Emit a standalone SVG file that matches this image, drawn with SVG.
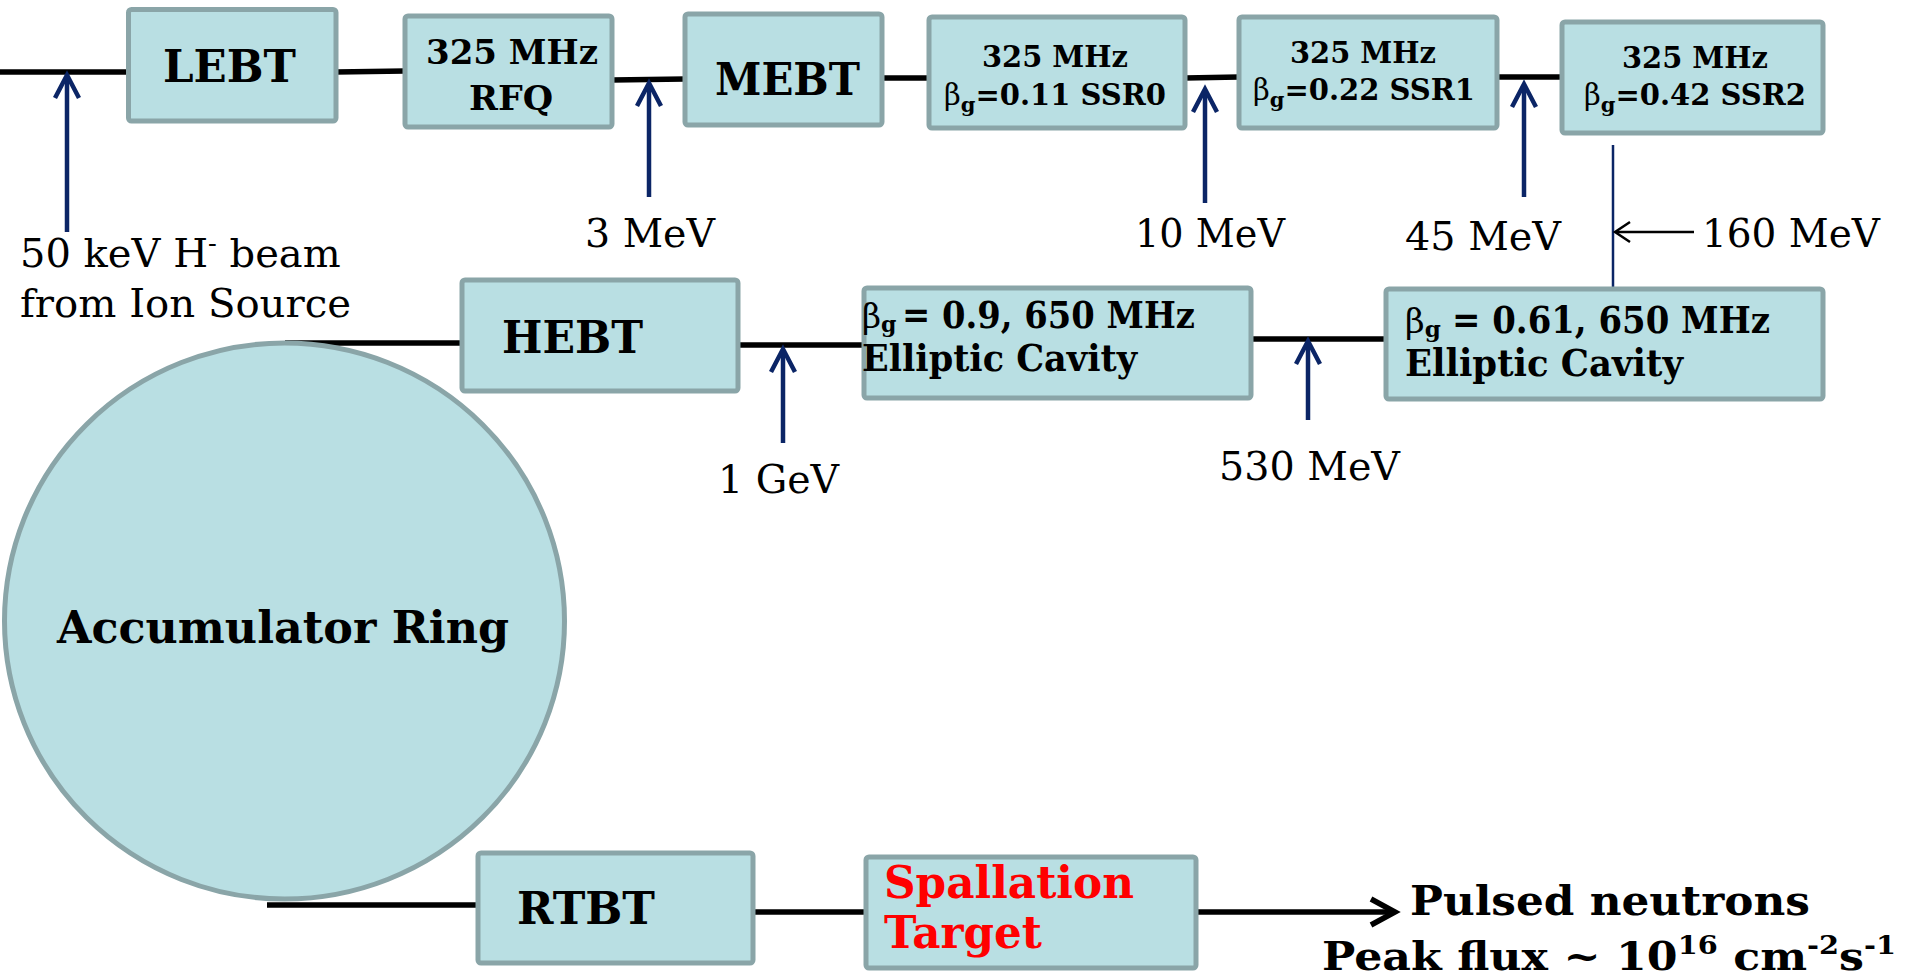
<svg xmlns="http://www.w3.org/2000/svg" width="1905" height="980" viewBox="0 0 1905 980">
<style>
.box{fill:#B9DFE3;stroke:#8AA5A8;stroke-width:5}
.ln{stroke:#000;stroke-width:5.5;fill:none}
.nv{stroke:#0B2566;stroke-width:4.5;fill:none;stroke-linejoin:miter}
.thin{stroke:#0B2566;stroke-width:2.5;fill:none}
.b{font-family:"DejaVu Serif","Liberation Serif",serif;font-weight:bold;fill:#000}
.r{font-family:"DejaVu Serif","Liberation Serif",serif;font-weight:normal;fill:#000}
.beta{font-weight:normal}
.red{fill:#FF0000}
</style>
<rect width="1905" height="980" fill="#fff"/>

<g id="connectors">
<line class="ln" x1="0" y1="72" x2="128" y2="72"/>
<line class="ln" x1="336" y1="72" x2="405" y2="71"/>
<line class="ln" x1="612" y1="80" x2="685" y2="79"/>
<line class="ln" x1="882" y1="78" x2="929" y2="78"/>
<line class="ln" x1="1185" y1="78" x2="1239" y2="77"/>
<line class="ln" x1="1497" y1="77" x2="1562" y2="77"/>
<line class="thin" x1="1613" y1="145" x2="1613" y2="289"/>
<line class="ln" x1="1251" y1="339" x2="1386" y2="339"/>
<line class="ln" x1="738" y1="345" x2="864" y2="345"/>
<line class="ln" x1="285" y1="343" x2="462" y2="343"/>
<line class="ln" x1="267" y1="905" x2="478" y2="905"/>
<line class="ln" x1="753" y1="912" x2="866" y2="912"/>
<line class="ln" x1="1196" y1="912" x2="1393" y2="912"/>
<path class="ln" d="M1371,899 L1395,912 L1371,925" stroke-linejoin="miter"/>
<line stroke="#000" stroke-width="2.5" x1="1694" y1="232" x2="1616" y2="232"/>
<path stroke="#000" stroke-width="2.5" fill="none" d="M1630,222 L1615,232 L1630,242"/>
<g class="nv">
<line x1="67" y1="76" x2="67" y2="232"/><path d="M55,98 L67,75 L79,98"/>
<line x1="649" y1="84" x2="649" y2="197"/><path d="M637,106 L649,83 L661,106"/>
<line x1="1205" y1="90" x2="1205" y2="203"/><path d="M1193,112 L1205,89 L1217,112"/>
<line x1="1524" y1="85" x2="1524" y2="197"/><path d="M1512,107 L1524,84 L1536,107"/>
<line x1="783" y1="350" x2="783" y2="443"/><path d="M771,372 L783,349 L795,372"/>
<line x1="1308" y1="342" x2="1308" y2="420"/><path d="M1296,364 L1308,341 L1320,364"/>
</g>
</g>

<g id="lebt"><rect class="box" x="128.5" y="9.5" width="207.5" height="111.5" rx="3"/>
<text class="b" x="229.5" y="82" font-size="44" text-anchor="middle" textLength="133" lengthAdjust="spacingAndGlyphs">LEBT</text></g>

<g id="rfq"><rect class="box" x="405" y="16" width="207" height="111" rx="3"/>
<text class="b" x="512" y="64" font-size="34" text-anchor="middle" textLength="172" lengthAdjust="spacingAndGlyphs">325 MHz</text>
<text class="b" x="511" y="110" font-size="34" text-anchor="middle" textLength="84" lengthAdjust="spacingAndGlyphs">RFQ</text></g>

<g id="mebt"><rect class="box" x="685" y="14" width="197" height="111" rx="3"/>
<text class="b" x="787.5" y="95" font-size="45" text-anchor="middle" textLength="145" lengthAdjust="spacingAndGlyphs">MEBT</text></g>

<g id="ssr0"><rect class="box" x="929" y="17" width="256" height="111" rx="3"/>
<text class="b" x="1055" y="67" font-size="30" text-anchor="middle" textLength="146" lengthAdjust="spacingAndGlyphs">325 MHz</text>
<text class="b" x="944" y="105" font-size="29"><tspan class="beta">β</tspan><tspan dy="7" font-size="21">g</tspan><tspan dy="-7">=0.11 SSR0</tspan></text></g>

<g id="ssr1"><rect class="box" x="1239" y="17" width="258" height="111" rx="3"/>
<text class="b" x="1363" y="63" font-size="30" text-anchor="middle" textLength="146" lengthAdjust="spacingAndGlyphs">325 MHz</text>
<text class="b" x="1253" y="100" font-size="29"><tspan class="beta">β</tspan><tspan dy="7" font-size="21">g</tspan><tspan dy="-7">=0.22 SSR1</tspan></text></g>

<g id="ssr2"><rect class="box" x="1562" y="22" width="261" height="111" rx="3"/>
<text class="b" x="1695" y="68" font-size="30" text-anchor="middle" textLength="146" lengthAdjust="spacingAndGlyphs">325 MHz</text>
<text class="b" x="1584" y="105" font-size="29"><tspan class="beta">β</tspan><tspan dy="7" font-size="21">g</tspan><tspan dy="-7">=0.42 SSR2</tspan></text></g>

<g id="hebt"><rect class="box" x="462" y="280" width="276" height="111" rx="3"/>
<text class="b" x="572.5" y="353" font-size="44" text-anchor="middle" textLength="141" lengthAdjust="spacingAndGlyphs">HEBT</text></g>

<g id="elliptic1"><rect class="box" x="864" y="288" width="387" height="110" rx="3"/>
<text class="b" x="862" y="328" font-size="33"><tspan class="beta">β</tspan><tspan dy="4" font-size="22">g</tspan></text>
<text class="b" x="902" y="328" font-size="37" textLength="293" lengthAdjust="spacingAndGlyphs">= 0.9, 650 MHz</text>
<text class="b" x="862" y="371" font-size="37" textLength="275" lengthAdjust="spacingAndGlyphs">Elliptic Cavity</text></g>

<g id="elliptic2"><rect class="box" x="1386" y="289" width="437" height="110" rx="3"/>
<text class="b" x="1405" y="333" font-size="34"><tspan class="beta">β</tspan><tspan dy="4" font-size="23">g</tspan></text>
<text class="b" x="1452" y="333" font-size="38" textLength="318" lengthAdjust="spacingAndGlyphs">= 0.61, 650 MHz</text>
<text class="b" x="1405" y="376" font-size="38" textLength="278" lengthAdjust="spacingAndGlyphs">Elliptic Cavity</text></g>

<g id="ring"><ellipse cx="284.5" cy="621" rx="280" ry="278" fill="#B9DFE3" stroke="#8AA5A8" stroke-width="5"/>
<text class="b" x="283" y="643" font-size="45" text-anchor="middle" textLength="452" lengthAdjust="spacingAndGlyphs">Accumulator Ring</text></g>

<g id="rtbt"><rect class="box" x="478" y="853" width="275" height="110" rx="3"/>
<text class="b" x="586" y="924" font-size="45" text-anchor="middle" textLength="138" lengthAdjust="spacingAndGlyphs">RTBT</text></g>

<g id="target"><rect class="box" x="866" y="857" width="330" height="111" rx="3"/>
<text class="b red" x="884" y="898" font-size="44" textLength="250" lengthAdjust="spacingAndGlyphs">Spallation</text>
<text class="b red" x="884" y="948" font-size="44" textLength="158" lengthAdjust="spacingAndGlyphs">Target</text></g>

<g id="labels">
<text class="r" x="20" y="267" font-size="40">50 keV H<tspan dy="-15" font-size="26">-</tspan><tspan dy="15"> beam</tspan></text>
<text class="r" x="20" y="317" font-size="40" textLength="331" lengthAdjust="spacingAndGlyphs">from Ion Source</text>
<text class="r" x="585" y="247" font-size="40" textLength="130" lengthAdjust="spacingAndGlyphs">3 MeV</text>
<text class="r" x="1135" y="247" font-size="40" textLength="150" lengthAdjust="spacingAndGlyphs">10 MeV</text>
<text class="r" x="1405" y="250" font-size="40" textLength="156" lengthAdjust="spacingAndGlyphs">45 MeV</text>
<text class="r" x="1702" y="247" font-size="40" textLength="178" lengthAdjust="spacingAndGlyphs">160 MeV</text>
<text class="r" x="718" y="493" font-size="40" textLength="121" lengthAdjust="spacingAndGlyphs">1 GeV</text>
<text class="r" x="1219" y="480" font-size="40" textLength="181" lengthAdjust="spacingAndGlyphs">530 MeV</text>
<text class="b" x="1410" y="915" font-size="41" textLength="400" lengthAdjust="spacingAndGlyphs">Pulsed neutrons</text>
<text class="b" x="1322" y="970" font-size="40" textLength="574" lengthAdjust="spacingAndGlyphs">Peak flux ~ 10<tspan dy="-16" font-size="26">16</tspan><tspan dy="16"> cm</tspan><tspan dy="-16" font-size="26">-2</tspan><tspan dy="16">s</tspan><tspan dy="-16" font-size="26">-1</tspan></text>
</g>
</svg>
